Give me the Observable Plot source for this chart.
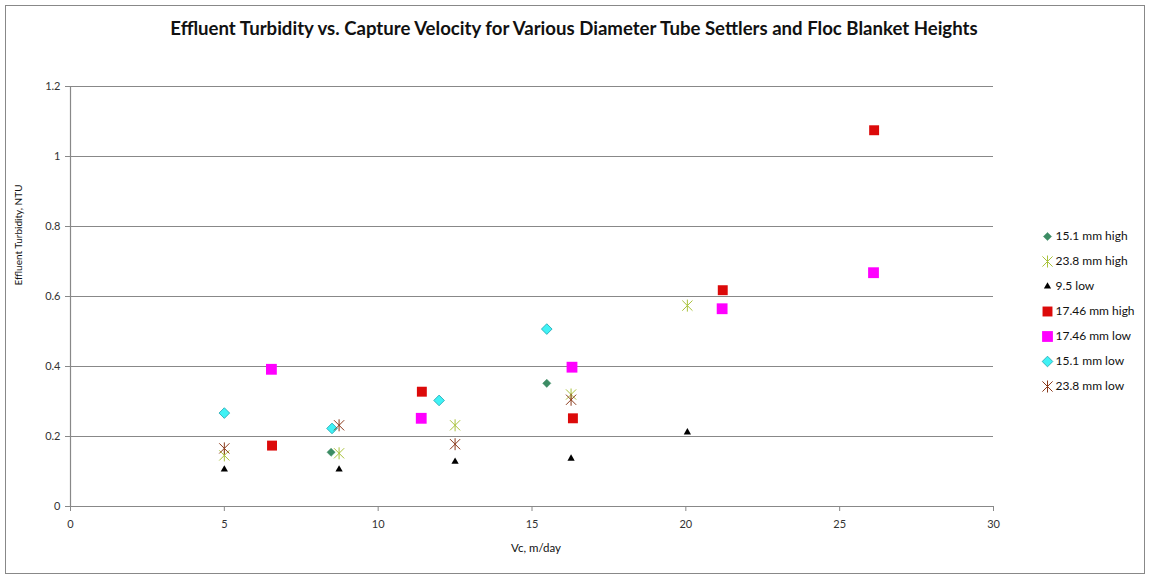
<!DOCTYPE html>
<html><head><meta charset="utf-8">
<script src="https://cdn.jsdelivr.net/npm/d3@7"></script>
<script src="https://cdn.jsdelivr.net/npm/@observablehq/plot@0.6"></script>
<style>
html,body{margin:0;padding:0;background:#fff;}
#wrap{position:relative;width:1152px;height:581px;overflow:hidden;font-family:Lato,"Open Sans",sans-serif;}
#frame{position:absolute;left:5px;top:5px;width:1138px;height:567px;border:1.5px solid #888;pointer-events:none;}
#title{position:absolute;left:0;top:16px;width:1148px;text-align:center;font-size:18.6px;font-weight:bold;color:#111;line-height:24px;}
#chart{position:absolute;left:0;top:0;}
#legend{position:absolute;left:1030px;top:218px;}
</style></head><body>
<div id="wrap"><div id="frame"></div><div id="title"></div><div id="chart"></div><div id="legend"></div></div>
<script>
const titleText = "Effluent Turbidity vs. Capture Velocity for Various Diameter Tube Settlers and Floc Blanket Heights";
const xLabel = "Vc, m/day";
const yLabel = "Effluent Turbidity, NTU";
const xTicks = [0, 5, 10, 15, 20, 25, 30];
const yTicks = [0, 0.2, 0.4, 0.6, 0.8, 1, 1.2];
const seriesNames = ["15.1 mm high", "23.8 mm high", "9.5 low", "17.46 mm high", "17.46 mm low", "15.1 mm low", "23.8 mm low"];

const vc151High = [8.47, 15.48];
const ntu151High = [0.155, 0.352];
const vc238High = [5.0, 8.73, 12.5, 16.27, 20.05];
const ntu238High = [0.146, 0.152, 0.232, 0.32, 0.574];
const vc95Low = [5.0, 8.73, 12.5, 16.27, 20.05];
const ntu95Low = [0.106, 0.106, 0.128, 0.137, 0.212];
const vc1746High = [6.55, 11.42, 16.33, 21.2, 26.12];
const ntu1746High = [0.174, 0.328, 0.252, 0.618, 1.075];
const vc1746Low = [6.53, 11.4, 16.3, 21.18, 26.1];
const ntu1746Low = [0.392, 0.252, 0.398, 0.565, 0.668];
const vc151Low = [5.0, 8.5, 11.98, 15.48];
const ntu151Low = [0.267, 0.223, 0.303, 0.507];
const vc238Low = [5.0, 8.73, 12.5, 16.27];
const ntu238Low = [0.166, 0.232, 0.178, 0.305];

const vcs = [vc151High, vc238High, vc95Low, vc1746High, vc1746Low, vc151Low, vc238Low];
const ntus = [ntu151High, ntu238High, ntu95Low, ntu1746High, ntu1746Low, ntu151Low, ntu238Low];

// Excel-style star: X plus vertical bar
const star = {
  draw(context, size) {
    const r = Math.sqrt(size / Math.PI);
    const a = r * 0.85;
    context.moveTo(-a, -a); context.lineTo(a, a);
    context.moveTo(-a, a); context.lineTo(a, -a);
    context.moveTo(0, -r); context.lineTo(0, r);
  }
};

const styles = [
  {symbol: "diamond2", r: 3.7, fill: "#3c8c64", stroke: "#3c8c64", strokeWidth: 0.5},
  {symbol: star, r: 6, fill: "none", stroke: "#a9c23c", strokeWidth: 1},
  {symbol: "triangle", r: 2.7, fill: "#000", stroke: "none"},
  {symbol: "square", r: 5.6, fill: "#dc0a0a", stroke: "none"},
  {symbol: "square", r: 6.1, fill: "#ff00ff", stroke: "none"},
  {symbol: "diamond2", r: 4.8, fill: "#3ff2f5", stroke: "#1fa3b0", strokeWidth: 0.8},
  {symbol: star, r: 6, fill: "none", stroke: "#8b3a1c", strokeWidth: 1}
];

const rows = seriesNames.map((name, i) => vcs[i].map((x, j) => ({series: name, x, y: ntus[i][j]})));

document.getElementById("title").textContent = titleText;

const chart = Plot.plot({
  width: 1152, height: 581,
  marginLeft: 70, marginRight: 159, marginTop: 86, marginBottom: 75,
  style: {fontFamily: "Lato, 'Open Sans', sans-serif", fontSize: "11px", color: "#222", background: "transparent"},
  x: {domain: [0, 30]},
  y: {domain: [0, 1.2]},
  marks: [
    Plot.gridY(yTicks, {stroke: "#888", strokeOpacity: 1, strokeWidth: 1.2}),
    Plot.ruleX([0], {stroke: "#888", strokeWidth: 1.2}),
    Plot.ruleY([0], {stroke: "#888", strokeWidth: 1.2}),
    Plot.axisY(yTicks, {tickSize: 5, tickPadding: 5, stroke: "#888", fill: "#333", tickFormat: d => String(+d.toFixed(1)), label: null}),
    Plot.axisX(xTicks, {tickSize: 5, tickPadding: 9, stroke: "#888", fill: "#333", label: null}),
    Plot.text([yLabel], {frameAnchor: "left", dx: -52, dy: -11, rotate: -90, fill: "#111", fontSize: 10}),
    Plot.text([xLabel], {frameAnchor: "bottom", dx: 4, dy: 45, fill: "#111", fontSize: 11.5}),
    ...rows.map((data, i) => Plot.dot(data, {x: "x", y: "y", ...styles[i]}))
  ]
});
document.getElementById("chart").appendChild(chart);

const legend = Plot.plot({
  width: 118, height: 185, margin: 0,
  style: {fontFamily: "Lato, 'Open Sans', sans-serif", fontSize: "12px", color: "#222", background: "transparent"},
  x: {domain: [0, 1], range: [17, 117], axis: null},
  y: {type: "point", domain: seriesNames, range: [15, 170], padding: 0, axis: null},
  marks: [
    ...seriesNames.map((name, i) => Plot.dot([name], {x: () => 0, y: d => d, ...styles[i]})),
    Plot.text(seriesNames, {x: () => 0, y: d => d, text: d => d, dx: 8, textAnchor: "start", fill: "#111"})
  ]
});
document.getElementById("legend").appendChild(legend);
</script>
</body></html>
